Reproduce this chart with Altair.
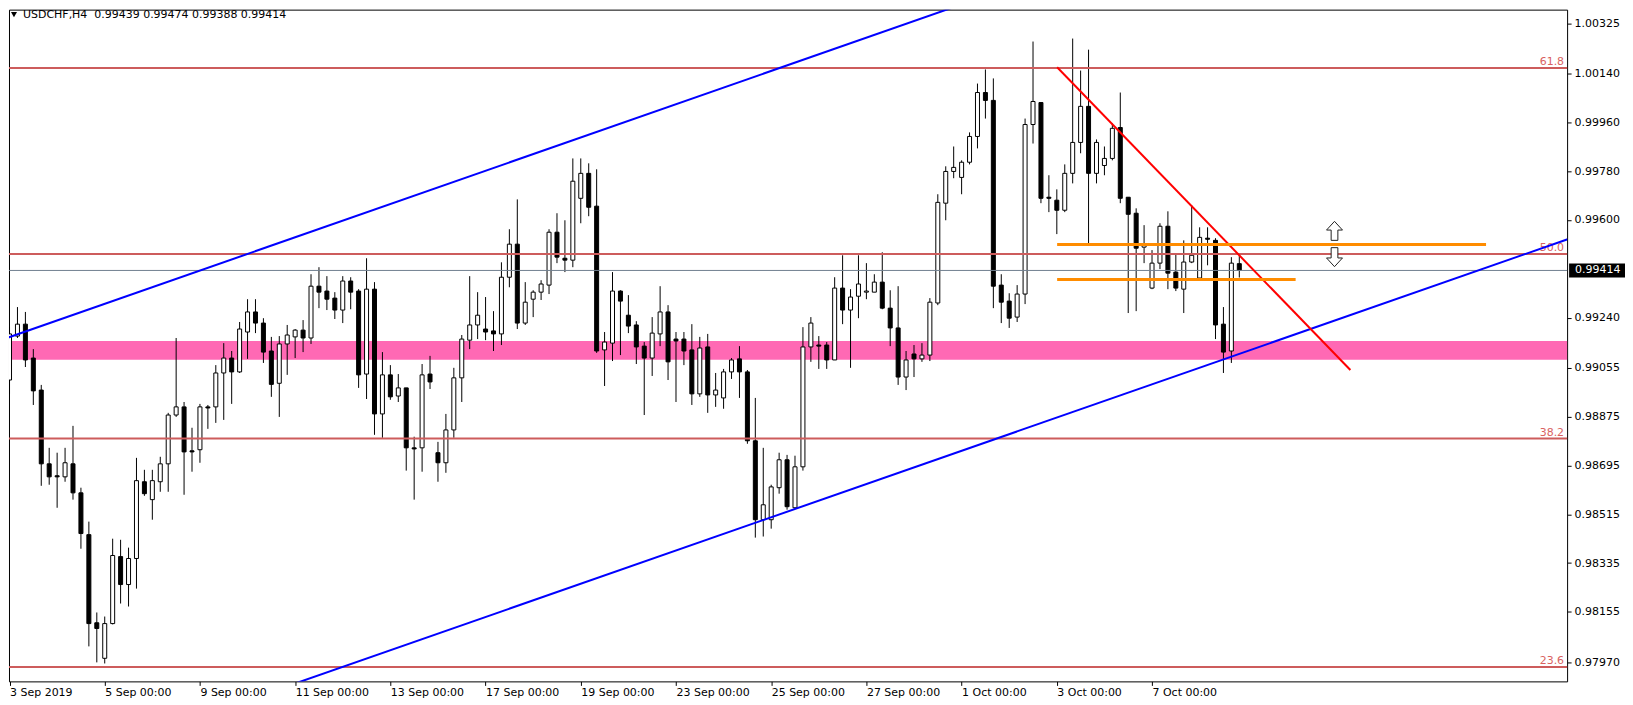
import altair as alt
import pandas as pd

# ---- candle data (USDCHF H4), index 0 = 3 Sep 2019 00:00 ----
opens = [0.99010,0.99172,0.99216,0.99091,0.98973,0.98701,0.98657,0.98653,0.98701,0.98594,
         0.98440,0.98115,0.97984,0.98112,0.98359,0.98256,0.98352,0.98635,0.98569,0.98635,
         0.98701,0.98881,0.98911,0.98749,0.98753,0.98911,0.98911,0.99036,0.99091,0.99040,
         0.99187,0.99261,0.99220,0.99117,0.98998,0.99143,0.99169,0.99194,0.99165,0.99356,
         0.99338,0.99312,0.99268,0.99375,0.99338,0.99032,0.99345,0.98885,0.99029,0.98951,
         0.98981,0.98760,0.98760,0.99032,0.98742,0.98705,0.98826,0.99018,0.99157,0.99213,
         0.99198,0.99191,0.99180,0.99389,0.99511,0.99220,0.99308,0.99334,0.99360,0.99555,
         0.99459,0.99452,0.99680,0.99772,0.99651,0.99121,0.99146,0.99338,0.99249,0.99213,
         0.99135,0.99091,0.99180,0.99261,0.99161,0.99161,0.99121,0.98959,0.99132,0.98955,
         0.98944,0.99040,0.99088,0.99040,0.98786,0.98495,0.98495,0.98613,0.98716,0.98539,
         0.98690,0.99132,0.99139,0.99139,0.99084,0.99349,0.99268,0.99319,0.99334,0.99334,
         0.99371,0.99275,0.99202,0.99021,0.99106,0.99088,0.99102,0.99294,0.99662,0.99779,
         0.99757,0.99813,0.99908,1.00070,1.00041,0.99360,0.99301,0.99242,0.99327,0.99952,
         1.00033,0.99684,0.99673,0.99636,0.99772,0.99886,1.00019,0.99772,0.99801,0.99827,
         0.99941,0.99684,0.99625,0.99500,0.99349,0.99441,0.99577,0.99408,0.99345,0.99445,
         0.99386,0.99533,0.99525,0.99216,0.99117,0.99439]
highs = [0.99205,0.99279,0.99261,0.99124,0.98992,0.98760,0.98742,0.98760,0.98841,0.98613,
         0.98488,0.98153,0.98138,0.98425,0.98421,0.98392,0.98723,0.98679,0.98679,0.98727,
         0.98889,0.99165,0.98929,0.98834,0.98922,0.98918,0.99065,0.99146,0.99117,0.99224,
         0.99308,0.99308,0.99238,0.99169,0.99172,0.99213,0.99198,0.99231,0.99400,0.99426,
         0.99393,0.99334,0.99393,0.99389,0.99345,0.99459,0.99371,0.99113,0.99065,0.99032,
         0.98981,0.98801,0.99069,0.99099,0.98782,0.98885,0.99055,0.99176,0.99393,0.99334,
         0.99316,0.99264,0.99444,0.99566,0.99676,0.99371,0.99341,0.99378,0.99566,0.99625,
         0.99599,0.99827,0.99827,0.99809,0.99787,0.99187,0.99408,0.99341,0.99323,0.99227,
         0.99150,0.99242,0.99356,0.99286,0.99187,0.99187,0.99216,0.99169,0.99180,0.99036,
         0.99051,0.99091,0.99135,0.99047,0.98944,0.98760,0.98624,0.98742,0.98734,0.98731,
         0.99205,0.99242,0.99172,0.99150,0.99389,0.99470,0.99345,0.99470,0.99441,0.99400,
         0.99481,0.99341,0.99356,0.99117,0.99139,0.99146,0.99312,0.99695,0.99798,0.99871,
         0.99820,0.99923,1.00103,1.00155,1.00122,0.99400,0.99330,0.99360,0.99974,1.00258,
         1.00033,0.99765,0.99713,0.99805,1.00269,1.00151,1.00228,0.99897,0.99871,0.99956,
         1.00070,0.99684,0.99643,0.99581,0.99489,0.99588,0.99632,0.99478,0.99525,0.99654,
         0.99573,0.99573,0.99533,0.99279,0.99463,0.99474]
lows = [0.98959,0.99165,0.99058,0.98918,0.98620,0.98624,0.98539,0.98635,0.98569,0.98388,
        0.98028,0.97969,0.97965,0.98109,0.98186,0.98175,0.98241,0.98583,0.98495,0.98598,
        0.98598,0.98874,0.98587,0.98672,0.98705,0.98830,0.98852,0.98863,0.98922,0.99036,
        0.99088,0.99183,0.99073,0.98948,0.98874,0.99029,0.99091,0.99113,0.99143,0.99275,
        0.99268,0.99235,0.99220,0.99271,0.98981,0.98940,0.98808,0.98797,0.98937,0.98929,
        0.98676,0.98569,0.98672,0.98977,0.98635,0.98668,0.98797,0.98929,0.99124,0.99161,
        0.99157,0.99117,0.99139,0.99352,0.99198,0.99213,0.99242,0.99305,0.99327,0.99441,
        0.99408,0.99426,0.99588,0.99614,0.99110,0.98988,0.99080,0.99102,0.99183,0.99069,
        0.98881,0.99025,0.99135,0.99010,0.98929,0.99065,0.98918,0.98948,0.98889,0.98911,
        0.98904,0.99014,0.98944,0.98775,0.98429,0.98433,0.98462,0.98591,0.98532,0.98535,
        0.98676,0.99077,0.99051,0.99051,0.99084,0.99216,0.99055,0.99238,0.99308,0.99334,
        0.99271,0.99135,0.98992,0.98973,0.99021,0.99077,0.99080,0.99286,0.99599,0.99754,
        0.99695,0.99805,0.99864,0.99974,0.99275,0.99220,0.99202,0.99224,0.99290,0.99882,
        0.99662,0.99629,0.99548,0.99629,0.99735,0.99846,0.99515,0.99735,0.99765,0.99820,
        0.99662,0.99257,0.99264,0.99441,0.99345,0.99419,0.99345,0.99338,0.99257,0.99441,
        0.99386,0.99433,0.99161,0.99036,0.99073,0.99388]
closes = [0.99180,0.99216,0.99084,0.98970,0.98701,0.98653,0.98653,0.98705,0.98594,0.98444,
          0.98112,0.98094,0.98112,0.98363,0.98256,0.98352,0.98639,0.98591,0.98639,0.98701,
          0.98881,0.98911,0.98745,0.98745,0.98911,0.98907,0.99036,0.99091,0.99040,0.99198,
          0.99261,0.99220,0.99113,0.98994,0.99143,0.99176,0.99194,0.99165,0.99356,0.99334,
          0.99308,0.99268,0.99375,0.99334,0.99029,0.99345,0.98885,0.99029,0.98948,0.98981,
          0.98760,0.98756,0.99029,0.99003,0.98705,0.98826,0.99018,0.99161,0.99213,0.99249,
          0.99187,0.99180,0.99389,0.99511,0.99220,0.99297,0.99334,0.99364,0.99555,0.99463,
          0.99452,0.99743,0.99772,0.99647,0.99117,0.99150,0.99338,0.99301,0.99209,0.99132,
          0.99091,0.99183,0.99261,0.99077,0.99154,0.99117,0.98959,0.99128,0.98955,0.98973,
          0.99040,0.99084,0.99040,0.98786,0.98495,0.98550,0.98616,0.98716,0.98543,0.98690,
          0.99132,0.99220,0.99135,0.99084,0.99349,0.99268,0.99316,0.99364,0.99338,0.99371,
          0.99275,0.99202,0.99021,0.99084,0.99088,0.99102,0.99297,0.99665,0.99779,0.99794,
          0.99813,0.99908,1.00070,1.00041,0.99356,0.99297,0.99238,0.99327,0.99952,1.00037,
          0.99680,0.99680,0.99636,0.99772,0.99886,1.00019,0.99772,0.99886,0.99827,0.99938,
          0.99680,0.99621,0.99496,0.99507,0.99441,0.99577,0.99404,0.99349,0.99445,0.99470,
          0.99536,0.99529,0.99213,0.99113,0.99441,0.99414]

tick_index = [0, 12, 24, 36, 48, 60, 72, 84, 96, 108, 120, 132, 144]
tick_labels = ["3 Sep 2019", "5 Sep 00:00", "9 Sep 00:00", "11 Sep 00:00", "13 Sep 00:00",
               "17 Sep 00:00", "19 Sep 00:00", "23 Sep 00:00", "25 Sep 00:00", "27 Sep 00:00",
               "1 Oct 00:00", "3 Oct 00:00", "7 Oct 00:00"]
price_ticks = [1.00325, 1.00140, 0.99960, 0.99780, 0.99600, 0.99240, 0.99055,
               0.98875, 0.98695, 0.98515, 0.98335, 0.98155, 0.97970]

fib_levels = [1.00160, 0.99475, 0.98794, 0.97952]
fib_names = ["61.8", "50.0", "38.2", "23.6"]
zone_top, zone_bottom = 0.99154, 0.99085
bid = 0.99414

# trend lines: (i1, p1, i2, p2)
blue_x1 = [-1, 30]
blue_y1 = [0.99158, 0.97830]
blue_x2 = [125, 200]
blue_y2 = [1.00446, 0.99566]
red_x1, red_y1, red_x2, red_y2 = 132.04, 1.00163, 169.0, 0.99047
orange_x1 = [132.04, 132.04]
orange_x2 = [186.1, 162.1]
orange_p = [0.99510, 0.99381]
arrow_i = [167, 167]
arrow_p = [0.99560, 0.99463]
arrow_dir = ["up", "down"]

W, H = 1561, 673
xs = alt.Scale(domain=[0.5625, 195.6875], nice=False, zero=False)
ys = alt.Scale(domain=[0.978989, 1.003756], nice=False, zero=False)
FONT = "DejaVu Sans"

df = pd.DataFrame({"i": list(range(len(opens))), "open": opens, "high": highs,
                   "low": lows, "close": closes})
df["up"] = df["close"] >= df["open"]

label_arr = "[" + ",".join("'%s'" % s for s in tick_labels) + "]"
xaxis = alt.Axis(values=tick_index, labelExpr=label_arr + "[round(datum.value/12)]",
                 tickSize=4, tickColor="black", domain=False, grid=False,
                 labelAlign="left", labelBaseline="top", labelPadding=1,
                 labelFont=FONT, labelFontSize=11, labelColor="black", title=None,
                 labelOverlap=False, labelBound=False, labelFlush=False)
yaxis = alt.Axis(orient="right", values=price_ticks, format=".5f", tickSize=4,
                 tickColor="black", domain=False, grid=False, labelPadding=3,
                 labelFont=FONT, labelFontSize=11, labelColor="black", title=None,
                 labelOverlap=False, labelBound=False)

base = alt.Chart(df)

zone = alt.Chart(pd.DataFrame({"a": [zone_top], "b": [zone_bottom]})).mark_rect(
    color="#FF69B4").encode(
    x=alt.value(0), x2=alt.value(W),
    y=alt.Y("a:Q", scale=ys, axis=yaxis), y2="b:Q")

wicks = base.mark_rule(color="black", strokeWidth=1, clip=True).encode(
    x=alt.X("i:Q", scale=xs, axis=xaxis),
    y=alt.Y("low:Q", scale=ys), y2="high:Q")

bodies = base.mark_bar(size=4, stroke="black", strokeWidth=1, clip=True).encode(
    x=alt.X("i:Q", scale=xs),
    y=alt.Y("open:Q", scale=ys), y2="close:Q",
    fill=alt.condition("datum.up", alt.value("white"), alt.value("black")))

bidline = alt.Chart(pd.DataFrame({"p": [bid]})).mark_rule(
    color="#708090", strokeWidth=1).encode(y=alt.Y("p:Q", scale=ys))

fibdf = pd.DataFrame({"p": fib_levels, "n": fib_names})
fibs = alt.Chart(fibdf).mark_rule(color="#CD5C5C", strokeWidth=2).encode(
    y=alt.Y("p:Q", scale=ys))
fibtext = alt.Chart(fibdf).mark_text(
    align="right", baseline="alphabetic", dy=-3, font=FONT, fontSize=11,
    color="#D9625F").encode(x=alt.value(W - 3), y=alt.Y("p:Q", scale=ys), text="n:N")

bluedf = pd.DataFrame({"x1": blue_x1, "y1": blue_y1, "x2": blue_x2, "y2": blue_y2})
blue = alt.Chart(bluedf).mark_rule(color="#0000FF", strokeWidth=2, clip=True).encode(
    x=alt.X("x1:Q", scale=xs), x2="x2:Q",
    y=alt.Y("y1:Q", scale=ys), y2="y2:Q")

reddf = pd.DataFrame({"x1": [red_x1], "y1": [red_y1], "x2": [red_x2], "y2": [red_y2]})
red = alt.Chart(reddf).mark_rule(color="#FF0000", strokeWidth=2, clip=True).encode(
    x=alt.X("x1:Q", scale=xs), x2="x2:Q",
    y=alt.Y("y1:Q", scale=ys), y2="y2:Q")

ordf = pd.DataFrame({"x1": orange_x1, "x2": orange_x2, "p": orange_p})
orange = alt.Chart(ordf).mark_rule(color="#FF8C00", strokeWidth=3, clip=True).encode(
    x=alt.X("x1:Q", scale=xs), x2="x2:Q", y=alt.Y("p:Q", scale=ys))

up_path = "M0,-1.19L1,-0.1L0.42,-0.1L0.42,1.19L-0.42,1.19L-0.42,-0.1L-1,-0.1Z"
down_path = "M0,1.19L1,0.1L0.42,0.1L0.42,-1.19L-0.42,-1.19L-0.42,0.1L-1,0.1Z"
ardf = pd.DataFrame({"i": arrow_i, "p": arrow_p, "d": arrow_dir})
arrow_up = alt.Chart(ardf).transform_filter("datum.d == 'up'").mark_point(
    shape=up_path, size=256, filled=True, fill="white", stroke="#222222",
    strokeWidth=1, opacity=1).encode(x=alt.X("i:Q", scale=xs), y=alt.Y("p:Q", scale=ys))
arrow_dn = alt.Chart(ardf).transform_filter("datum.d == 'down'").mark_point(
    shape=down_path, size=256, filled=True, fill="white", stroke="#222222",
    strokeWidth=1, opacity=1).encode(x=alt.X("i:Q", scale=xs), y=alt.Y("p:Q", scale=ys))

hdr = pd.DataFrame({"t": ["USDCHF,H4\u00a0\u00a0" + " ".join(
    "%.5f" % v for v in [opens[-1], highs[-1], lows[-1], closes[-1]])]})
header = alt.Chart(hdr).mark_text(align="left", baseline="middle", font=FONT,
                                  fontSize=11, color="black").encode(
    x=alt.value(14), y=alt.value(5), text="t:N")
tri = alt.Chart(hdr).mark_point(shape="triangle-down", size=36, filled=True,
                                color="black", opacity=1).encode(
    x=alt.value(5), y=alt.value(5))

bidbox = alt.Chart(pd.DataFrame({"p": [bid], "t": ["%.5f" % bid]})).mark_point(
    shape="M-1,-0.25L1,-0.25L1,0.25L-1,0.25Z", size=3136, filled=True,
    color="black", opacity=1).encode(x=alt.value(W + 30), y=alt.Y("p:Q", scale=ys))
bidtext = alt.Chart(pd.DataFrame({"p": [bid], "t": ["%.5f" % bid]})).mark_text(
    align="left", baseline="middle", font=FONT, fontSize=11, color="white").encode(
    x=alt.value(W + 8), y=alt.Y("p:Q", scale=ys), text="t:N")

chart = alt.layer(zone, wicks, bodies, bidline, fibs, fibtext, blue, red, orange,
                  arrow_up, arrow_dn, header, tri, bidbox, bidtext).properties(
    width=W, height=H, padding=0, background="white"
).configure_view(stroke="black", strokeWidth=1).configure_axis(
    labelFont=FONT)

chart.save("out.html", embed_options={"renderer": "svg", "actions": False})
